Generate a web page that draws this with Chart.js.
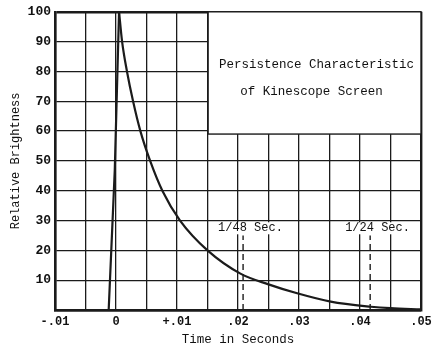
<!DOCTYPE html>
<html>
<head>
<meta charset="utf-8">
<script src="https://cdn.jsdelivr.net/npm/chart.js@4"></script>
<style>
  html, body { margin: 0; padding: 0; background: #fff; }
  #wrap { width: 432px; height: 347px; }
</style>
</head>
<body>
<div id="wrap"><canvas id="persistenceChart" width="432" height="347"></canvas></div>
<script>
// values
var riseTime = [-0.0012, -0.0002, 0.0005];
var riseBrightness = [0, 47, 100];
var decayTime = [0.0005, 0.0010, 0.0018, 0.0028, 0.0040, 0.0056, 0.0076, 0.0105, 0.0150,
                 0.0204, 0.0250, 0.0297, 0.0352, 0.0418, 0.0450, 0.0500];
var decayBrightness = [100, 90, 80, 70, 60, 50, 40, 30, 20,
                       12.2, 8.6, 5.6, 2.8, 1.1, 0.6, 0.2];
var xTickLabels = ['-.01', '0', '+.01', '.02', '.03', '.04', '.05'];
var markerTimes = [1 / 48, 1 / 24];
var markerLabels = ['1/48 Sec.', '1/24 Sec.'];
var markerTop = 25;
var boxTitle = ['Persistence Characteristic', 'of Kinescope Screen'];

var ink = '#1b1b1b';
var mono = "'Liberation Mono', 'DejaVu Sans Mono', monospace";

function toPoints(xs, ys) {
    return xs.map(function (t, i) { return { x: t, y: ys[i] }; });
}

function edgeWidth(ctx) {
    var scale = ctx.scale;
    var v = ctx.tick ? ctx.tick.value : 0;
    if (Math.abs(v - scale.max) < 1e-9 || Math.abs(v - scale.min) < 1e-9) return 2.4;
    return 1.3;
}

var datasets = [{
    data: toPoints(riseTime, riseBrightness),
    borderColor: ink,
    borderWidth: 2.2,
    pointRadius: 0,
    tension: 0,
    fill: false
}, {
    data: toPoints(decayTime, decayBrightness),
    borderColor: ink,
    borderWidth: 2.2,
    pointRadius: 0,
    fill: false,
    cubicInterpolationMode: 'monotone'
}];

markerTimes.forEach(function (t) {
    datasets.push({
        data: [{ x: t, y: 0 }, { x: t, y: markerTop }],
        borderColor: ink,
        borderWidth: 1.4,
        borderDash: [6, 4],
        pointRadius: 0,
        fill: false
    });
});

// white caption box and the marker labels
var notesPlugin = {
    id: 'notes',
    beforeDatasetsDraw: function (chart) {
        var c = chart.ctx, xs = chart.scales.x, ys = chart.scales.y;
        var left = xs.getPixelForValue(0.0151), right = xs.getPixelForValue(0.05);
        var top = ys.getPixelForValue(100), bottom = ys.getPixelForValue(59);
        c.save();
        c.fillStyle = '#fff';
        c.fillRect(left, top, right - left, bottom - top);
        c.strokeStyle = ink;
        c.lineWidth = 1.4;
        c.strokeRect(left, top, right - left, bottom - top);
        c.fillStyle = '#111';
        c.font = '12.5px ' + mono;
        c.textAlign = 'center';
        c.textBaseline = 'middle';
        c.fillText(boxTitle[0], (left + right) / 2 + 2, top + 53);
        c.fillText(boxTitle[1], (left + right) / 2 - 3, top + 80);

        c.font = '12px ' + mono;
        c.textAlign = 'left';
        markerTimes.forEach(function (t, i) {
            var px = xs.getPixelForValue(t);
            var py = ys.getPixelForValue(27.4);
            c.fillStyle = '#fff';
            c.fillRect(px - 25, py - 6, 68, 12);
            c.fillStyle = '#111';
            c.fillText(markerLabels[i], px - 25, py);
        });
        c.restore();
    }
};

new Chart(document.getElementById('persistenceChart'), {
    type: 'line',
    data: { datasets: datasets },
    options: {
        responsive: false,
        animation: false,
        layout: { padding: { top: 10, right: 0, left: 0, bottom: 0 } },
        plugins: { legend: { display: false }, tooltip: { enabled: false } },
        scales: {
            x: {
                type: 'linear',
                min: -0.01,
                max: 0.05,
                afterFit: function (s) {
                    s.height = 37;
                    s.paddingRight = 11;
                    s.paddingLeft = 0;
                },
                grid: { color: ink, lineWidth: edgeWidth, drawTicks: false },
                border: { color: ink, width: 2.4 },
                ticks: {
                    stepSize: 0.005,
                    autoSkip: false,
                    maxRotation: 0,
                    padding: 5,
                    color: '#111',
                    font: { family: mono, size: 12, weight: 'bold' },
                    callback: function (value) {
                        var idx = Math.round((value + 0.01) / 0.005);
                        return idx % 2 === 0 ? xTickLabels[idx / 2] : '';
                    }
                },
                title: {
                    display: true,
                    text: 'Time in Seconds',
                    color: '#111',
                    font: { family: mono, size: 12.5 },
                    padding: { top: 2, bottom: 0 }
                }
            },
            y: {
                min: 0,
                max: 100,
                afterFit: function (s) { s.width = 55; },
                grid: { color: ink, lineWidth: edgeWidth, drawTicks: false },
                border: { color: ink, width: 2.4 },
                ticks: {
                    stepSize: 10,
                    padding: 4,
                    color: '#111',
                    font: { family: mono, size: 13, weight: 'bold' },
                    callback: function (value) { return value === 0 ? '' : value; }
                },
                title: {
                    display: true,
                    text: 'Relative Brightness',
                    color: '#111',
                    font: { family: mono, size: 12 },
                    padding: { top: 9, bottom: 0 }
                }
            }
        }
    },
    plugins: [notesPlugin]
});
</script>
</body>
</html>
